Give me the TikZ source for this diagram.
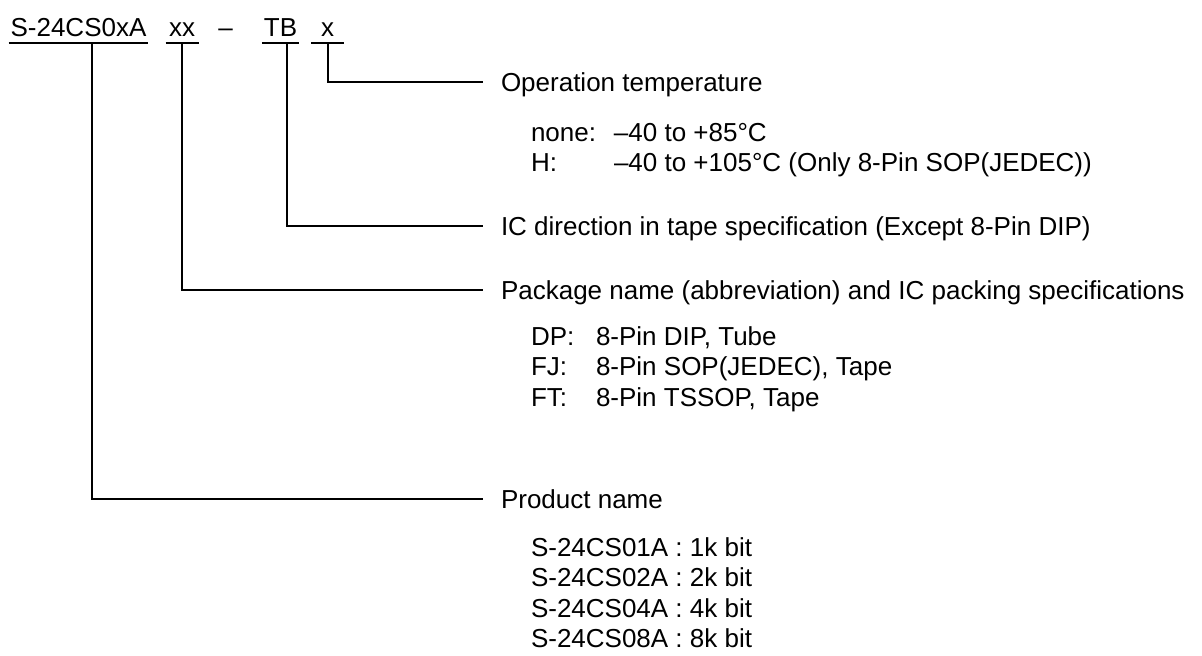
\documentclass[tikz,border=0pt]{standalone}
\usepackage{fontspec}
\setmainfont{Liberation Sans}
\usepackage{tikz}
\usetikzlibrary{positioning}

\begin{document}
\begin{tikzpicture}[x=0.5pt,y=-0.5pt,font=\fontsize{13}{15.25}\selectfont,line width=1pt,
  code/.style={anchor=base,inner xsep=0.5pt,inner ysep=3pt,text depth=0pt,minimum width=15.5pt},
  lbl/.style={anchor=west,inner xsep=8.5pt,inner ysep=0pt,text height=9.3pt,text depth=0pt},
  list/.style={anchor=base west,inner sep=0pt}]
  \useasboundingbox (0,0) rectangle (1202,655);
  % part number
  \node[code] (pn) at (78.5,36) {S-24CS0xA};
  \node[code] (pk) at (182,36) {xx};
  \node[code] (dash) at (225.5,36) {–};
  \node[code] (tb) at (280.5,36) {TB};
  \node[code] (tmp) at (327.5,36) {x};
  \foreach \n in {pn,pk,tb,tmp} \draw[line width=1.2pt] (\n.south west) -- (\n.south east);
  % labels
  \node[lbl] (optemp) at (483,82) {Operation temperature};
  \node[lbl] (icdir) at (483,226) {IC direction in tape specification (Except 8-Pin DIP)};
  \node[lbl] (pkg) at (483,290) {Package name (abbreviation) and IC packing specifications};
  \node[lbl] (prod) at (483,499) {Product name};
  \node[list] (tlist) at (530,141) {\begin{tabular}[t]{@{}p{41.5pt}@{}l@{}}
    none: & –40 to +85°C\\
    H: & –40 to +105°C (Only 8-Pin SOP(JEDEC))\end{tabular}};
  \node[list] (plist) at (530,345) {\begin{tabular}[t]{@{}p{32.5pt}@{}l@{}}
    DP: & 8-Pin DIP, Tube\\
    FJ: & 8-Pin SOP(JEDEC), Tape\\
    FT: & 8-Pin TSSOP, Tape\end{tabular}};
  \node[list] (nlist) at (530,556) {\begin{tabular}[t]{@{}l@{}}
    S-24CS01A : 1k bit\\
    S-24CS02A : 2k bit\\
    S-24CS04A : 4k bit\\
    S-24CS08A : 8k bit\end{tabular}};
  % connectors
  \draw (tmp.south) |- (optemp.west);
  \draw ([xshift=3pt]tb.south) |- (icdir.west);
  \draw (pk.south) |- (pkg.west);
  \draw ([xshift=6.5pt]pn.south) |- (prod.west);
\end{tikzpicture}
\end{document}
